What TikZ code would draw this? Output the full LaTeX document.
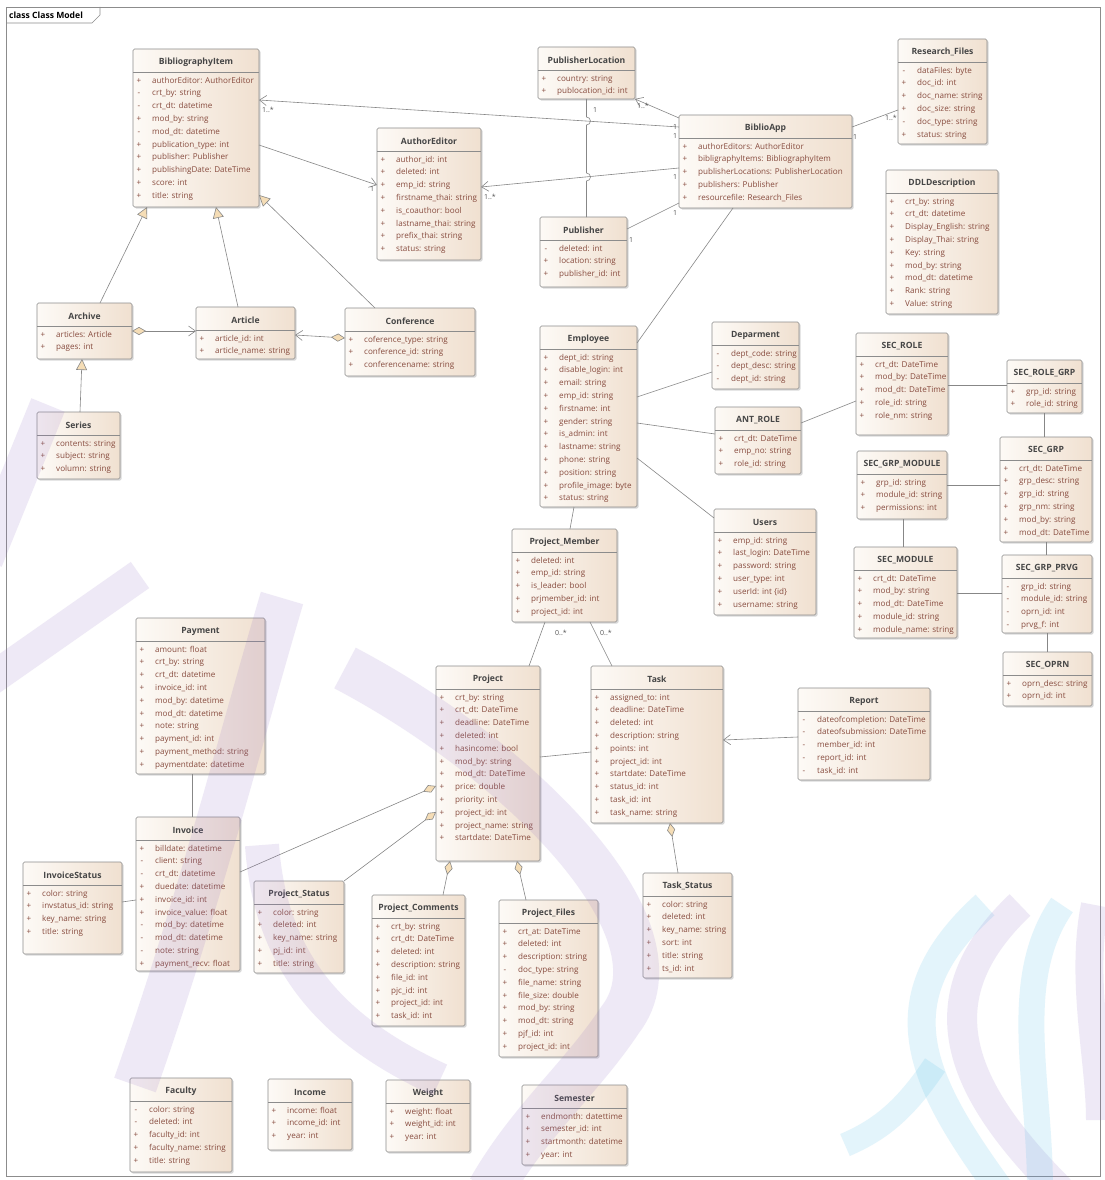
\documentclass[tikz,border=0pt]{standalone}
\usepackage{fontspec}
\setmainfont{Open Sans}
\usetikzlibrary{arrows.meta,shadows,calc}

\definecolor{boxl}{RGB}{253,250,246}
\definecolor{boxr}{RGB}{240,224,208}
\definecolor{boxline}{RGB}{140,140,140}
\definecolor{attrc}{RGB}{135,75,62}
\definecolor{titlec}{RGB}{70,70,70}
\definecolor{linec}{RGB}{135,135,135}
\definecolor{tipfill}{RGB}{245,221,182}
\definecolor{multc}{RGB}{85,85,85}
\definecolor{wmpurple}{RGB}{140,105,195}
\definecolor{wmcyan}{RGB}{70,185,230}

% one UML class: name, x1, y1, x2, y2 (pixel grid, y downwards), title, attributes
\newcommand\umlclass[7]{%
  \pgfmathsetmacro\bw{#4-#2}%
  \pgfmathsetmacro\bh{#5-#3}%
  \node[classbox, minimum width=\bw pt, minimum height=\bh pt] (#1) at (#2,-#3) {};
  \node[ctitle] at ({(#2+#4)/2},{-#3-13}) {#6};
  \draw[csep] (#2,{-#3-23}) -- (#4,{-#3-23});
  \foreach \vis/\txt [count=\k from 0] in {#7} {
    \node[cvis] at ({#2+6},{-#3-32-12.8*\k}) {\vis};
    \node[cattr] at ({#2+19},{-#3-32-12.8*\k}) {\txt};
  }%
}

\begin{document}
\begin{tikzpicture}[x=1pt,y=1pt,
  classbox/.style={anchor=north west, inner sep=0pt, outer sep=0pt,
    draw=boxline, line width=0.6pt, rounded corners=1.5pt,
    left color=boxl, right color=boxr,
    drop shadow={shadow xshift=1.6pt, shadow yshift=-1.6pt, opacity=0.3}},
  ctitle/.style={inner sep=0pt, text=titlec, font=\fontsize{8.6}{9}\selectfont\bfseries},
  cattr/.style={anchor=west, inner sep=0pt, text=attrc, text height=5.8pt, text depth=1.6pt,
    font=\fontsize{8.1}{9}\selectfont},
  cvis/.style={cattr, anchor=center},
  csep/.style={draw=boxline, line width=0.5pt},
  assoc/.style={draw=linec, line width=0.6pt},
  navig/.style={assoc, -{Straight Barb[length=7pt,width=10pt]}},
  gen/.style={assoc, -{Triangle[length=11pt,width=11pt,fill=tipfill]}},
  aggr/.style={assoc, {Diamond[length=14pt,width=8pt,fill=tipfill]}-},
  aggrnav/.style={assoc, {Diamond[length=14pt,width=8pt,fill=tipfill]}-{Straight Barb[length=7pt,width=10pt]}},
  mult/.style={inner sep=0pt, text=multc, font=\fontsize{7}{8}\selectfont},
  wmp/.style={draw=wmpurple, opacity=0.14, line cap=butt},
  wmc/.style={draw=wmcyan, opacity=0.15, line cap=butt}
]
\useasboundingbox (0,0) rectangle (1104,-1180);
\fill[white] (0,0) rectangle (1104,-1180);

% diagram frame
\draw[draw=boxline, line width=0.6pt] (6,-7) rectangle (1100,-1176);
\draw[draw=boxline, line width=0.6pt] (6,-23) -- (92,-23) -- (100,-15) -- (100,-7);
\node[anchor=west, inner sep=0pt, font=\fontsize{8.6}{9}\selectfont\bfseries] at (9,-15) {class Class Model};

% ---------------- classes ----------------
\umlclass{bibitem}{133}{49}{259}{207}{BibliographyItem}{+/authorEditor: AuthorEditor, -/crt\_by: string, -/crt\_dt: datetime, +/mod\_by: string, -/mod\_dt: datetime, +/publication\_type: int, +/publisher: Publisher, +/publishingDate: DateTime, +/score: int, +/title: string}
\umlclass{publoc}{538}{47}{635}{99}{PublisherLocation}{+/country: string, +/publocation\_id: int}
\umlclass{author}{377}{128}{481}{260}{AuthorEditor}{+/author\_id: int, +/deleted: int, +/emp\_id: string, +/firstname\_thai: string, +/is\_coauthor: bool, +/lastname\_thai: string, +/prefix\_thai: string, +/status: string}
\umlclass{publisher}{540}{217}{627}{287}{Publisher}{-/deleted: int, +/location: string, +/publisher\_id: int}
\umlclass{biblioapp}{679}{115}{852}{208}{BiblioApp}{+/authorEditors: AuthorEditor, +/bibligraphyItems: BibliographyItem, +/publisherLocations: PublisherLocation, +/publishers: Publisher, +/resourcefile: Research\_Files}
\umlclass{resfiles}{898}{39}{987}{144}{Research\_Files}{-/dataFiles: byte, +/doc\_id: int, +/doc\_name: string, +/doc\_size: string, -/doc\_type: string, +/status: string}
\umlclass{ddl}{886}{170}{998}{314}{DDLDescription}{+/crt\_by: string, +/crt\_dt: datetime, +/Display\_English: string, +/Display\_Thai: string, +/Key: string, +/mod\_by: string, +/mod\_dt: datetime, +/Rank: string, +/Value: string}
\umlclass{archive}{37}{303}{132}{359}{Archive}{+/articles: Article, +/pages: int}
\umlclass{article}{196}{307}{295}{359}{Article}{+/article\_id: int, +/article\_name: string}
\umlclass{conference}{345}{308}{475}{376}{Conference}{+/coference\_type: string, +/conference\_id: string, +/conferencename: string}
\umlclass{series}{37}{412}{120}{479}{Series}{+/contents: string, +/subject: string, +/volumn: string}
\umlclass{employee}{540}{326}{637}{507}{Employee}{+/dept\_id: string, +/disable\_login: int, +/email: string, +/emp\_id: string, +/firstname: int, +/gender: string, +/is\_admin: int, +/lastname: string, +/phone: string, +/position: string, +/profile\_image: byte, +/status: string}
\umlclass{dept}{712}{322}{799}{389}{Deparment}{-/dept\_code: string, -/dept\_desc: string, -/dept\_id: string}
\umlclass{antrole}{715}{407}{801}{474}{ANT\_ROLE}{+/crt\_dt: DateTime, +/emp\_no: string, +/role\_id: string}
\umlclass{users}{714}{509}{816}{615}{Users}{+/emp\_id: string, +/last\_login: DateTime, +/password: string, +/user\_type: int, +/userId: int \{id\}, +/username: string}
\umlclass{pmember}{512}{529}{617}{622}{Project\_Member}{+/deleted: int, +/emp\_id: string, +/is\_leader: bool, +/prjmember\_id: int, +/project\_id: int}
\umlclass{secrole}{856}{333}{948}{435}{SEC\_ROLE}{+/crt\_dt: DateTime, +/mod\_by: DateTime, +/mod\_dt: DateTime, +/role\_id: string, +/role\_nm: string}
\umlclass{secrolegrp}{1007}{360}{1082}{413}{SEC\_ROLE\_GRP}{+/grp\_id: string, +/role\_id: string}
\umlclass{secgrp}{1000}{437}{1092}{542}{SEC\_GRP}{+/crt\_dt: DateTime, +/grp\_desc: string, +/grp\_id: string, +/grp\_nm: string, +/mod\_by: string, +/mod\_dt: DateTime}
\umlclass{secgrpmod}{857}{451}{947}{519}{SEC\_GRP\_MODULE}{+/grp\_id: string, +/module\_id: string, +/permissions: int}
\umlclass{secmodule}{854}{547}{957}{638}{SEC\_MODULE}{+/crt\_dt: DateTime, +/mod\_by: string, +/mod\_dt: DateTime, +/module\_id: string, +/module\_name: string}
\umlclass{secgrpprvg}{1002}{555}{1092}{633}{SEC\_GRP\_PRVG}{-/grp\_id: string, -/module\_id: string, -/oprn\_id: int, -/prvg\_f: int}
\umlclass{secoprn}{1003}{652}{1092}{706}{SEC\_OPRN}{+/oprn\_desc: string, +/oprn\_id: int}
\umlclass{payment}{136}{618}{265}{774}{Payment}{+/amount: float, +/crt\_by: string, +/crt\_dt: datetime, +/invoice\_id: int, +/mod\_by: datetime, +/mod\_dt: datetime, +/note: string, +/payment\_id: int, +/payment\_method: string, +/paymentdate: datetime}
\umlclass{invoice}{136}{817}{240}{971}{Invoice}{+/billdate: datetime, -/client: string, -/crt\_dt: datetime, +/duedate: datetime, +/invoice\_id: int, +/invoice\_value: float, -/mod\_by: datetime, -/mod\_dt: datetime, -/note: string, +/payment\_recv: float}
\umlclass{invstatus}{23}{862}{122}{954}{InvoiceStatus}{+/color: string, +/invstatus\_id: string, +/key\_name: string, +/title: string}
\umlclass{project}{436}{666}{540}{861}{Project}{+/crt\_by: string, +/crt\_dt: DateTime, +/deadline: DateTime, +/deleted: int, +/hasincome: bool, +/mod\_by: string, +/mod\_dt: DateTime, +/price: double, +/priority: int, +/project\_id: int, +/project\_name: string, +/startdate: DateTime}
\umlclass{pstatus}{254}{881}{344}{973}{Project\_Status}{+/color: string, +/deleted: int, +/key\_name: string, +/pj\_id: int, +/title: string}
\umlclass{pcomments}{372}{895}{465}{1026}{Project\_Comments}{+/crt\_by: string, +/crt\_dt: DateTime, +/deleted: int, +/description: string, +/file\_id: int, +/pjc\_id: int, +/project\_id: int, +/task\_id: int}
\umlclass{pfiles}{499}{900}{598}{1057}{Project\_Files}{+/crt\_at: DateTime, +/deleted: int, +/description: string, -/doc\_type: string, +/file\_name: string, +/file\_size: double, +/mod\_by: string, +/mod\_dt: string, +/pjf\_id: int, +/project\_id: int}
\umlclass{task}{591}{666}{723}{823}{Task}{+/assigned\_to: int, +/deadline: DateTime, +/deleted: int, +/description: string, +/points: int, +/project\_id: int, +/startdate: DateTime, +/status\_id: int, +/task\_id: int, +/task\_name: string}
\umlclass{report}{798}{688}{930}{780}{Report}{-/dateofcompletion: DateTime, -/dateofsubmission: DateTime, -/member\_id: int, -/report\_id: int, -/task\_id: int}
\umlclass{tstatus}{643}{873}{732}{978}{Task\_Status}{+/color: string, +/deleted: int, +/key\_name: string, +/sort: int, +/title: string, +/ts\_id: int}
\umlclass{faculty}{130}{1078}{232}{1172}{Faculty}{-/color: string, -/deleted: int, +/faculty\_id: int, +/faculty\_name: string, +/title: string}
\umlclass{income}{268}{1079}{352}{1150}{Income}{+/income: float, +/income\_id: int, +/year: int}
\umlclass{weight}{386}{1080}{470}{1152}{Weight}{+/weight: float, +/weight\_id: int, +/year: int}
\umlclass{semester}{522}{1085}{627}{1165}{Semester}{+/endmonth: datettime, +/semester\_id: int, +/startmonth: datetime, +/year: int}

% ---------------- bibliography part ----------------
\draw[navig] (biblioapp.west |- 0,-127) -- (bibitem.east |- 0,-100);
\draw[navig] (biblioapp.west |- 0,-118) -- (publoc.south east);
\draw[navig] (biblioapp.west |- 0,-168) -- (author.east |- 0,-187);
\draw[assoc] (biblioapp.west |- 0,-203) -- (publisher.east |- 0,-229);
\draw[assoc] (biblioapp.east |- 0,-127) -- (resfiles.west |- 0,-110);
\draw[navig] (bibitem.east |- 0,-145) -- (author.west |- 0,-185);
% publisher to its location, hopping over two crossing lines
\draw[assoc] (publoc.south) -- ++(0,-18) arc[start angle=90,end angle=-90,radius=4]
  -- ++(0,-48) arc[start angle=90,end angle=-90,radius=4]
  -- (publoc.south |- publisher.north);

\draw[gen] (archive.north -| 100,0) -- (bibitem.south -| 147,0);
\draw[gen] (article.north -| 238,0) -- (bibitem.south -| 216,0);
\draw[gen] (conference.north -| 375,0) -- (bibitem.east |- 0,-195);
\draw[gen] (series.north -| 80,0) -- (archive.south -| 82,0);
\draw[aggrnav] (archive.east |- 0,-331) -- (article.west |- 0,-331);
\draw[aggrnav] (conference.west |- 0,-338) -- (article.east |- 0,-335);

\node[mult] at (268,-110) {1..*};
\node[mult] at (675,-127) {1};
\node[mult] at (675,-136) {1};
\node[mult] at (643,-106) {1..*};
\node[mult] at (595,-110) {1};
\node[mult] at (490,-197) {1..*};
\node[mult] at (675,-177) {1};
\node[mult] at (372,-189) {1};
\node[mult] at (631,-240) {1};
\node[mult] at (675,-213) {1};
\node[mult] at (891,-118) {1..*};
\node[mult] at (855,-137) {1};

% ---------------- staff and security ----------------
\draw[assoc] (biblioapp.south -| 733,0) -- (employee.east |- 0,-343);
\draw[assoc] (employee.east |- 0,-397) -- (dept.west |- 0,-372);
\draw[assoc] (employee.east |- 0,-423) -- (antrole.west |- 0,-434);
\draw[assoc] (employee.east |- 0,-458) -- (users.west |- 0,-518);
\draw[assoc] (antrole.east |- 0,-423) -- (secrole.west |- 0,-401);
\draw[assoc] (secrole.east |- 0,-385) -- (secrolegrp.west |- 0,-385);
\draw[assoc] (secrolegrp.south -| 1044,0) -- (secgrp.north -| 1044,0);
\draw[assoc] (secgrpmod.east |- 0,-485) -- (secgrp.west |- 0,-485);
\draw[assoc] (secgrpmod.south -| 903,0) -- (secmodule.north -| 903,0);
\draw[assoc] (secmodule.east |- 0,-593) -- (secgrpprvg.west |- 0,-593);
\draw[assoc] (secgrp.south -| 1046,0) -- (secgrpprvg.north -| 1046,0);
\draw[assoc] (secgrpprvg.south -| 1047,0) -- (secoprn.north -| 1047,0);

% ---------------- projects ----------------
\draw[assoc] (employee.south -| 574,0) -- (pmember.north -| 570,0);
\draw[assoc] (pmember.south -| 545,0) -- (project.north -| 529,0);
\draw[assoc] (pmember.south -| 590,0) -- (task.north -| 612,0);
\node[mult] at (561,-633) {0..*};
\node[mult] at (606,-633) {0..*};
\draw[assoc] (project.east |- 0,-757) -- (task.west |- 0,-752);
\draw[navig] (report.west |- 0,-737) -- (task.east |- 0,-740);
\draw[aggr] (task.south -| 670,0) -- (tstatus.north -| 678,0);
\draw[aggr] (project.south -| 450,0) -- (pcomments.north -| 443,0);
\draw[aggr] (project.south -| 517,0) -- (pfiles.north -| 526,0);
\draw[aggr] (project.west |- 0,-786) -- (invoice.east |- 0,-872);
\draw[aggr] (project.west |- 0,-812) -- (pstatus.north east);
\draw[assoc] (payment.south -| 192,0) -- (invoice.north -| 192,0);
\draw[assoc] (invstatus.east |- 0,-902) -- (invoice.west |- 0,-900);

% ---------------- background logo strokes ----------------
\draw[wmp, line width=36pt] (48,-405) -- (-15,-560);
\draw[wmp, line width=32pt] (140,-575) -- (-10,-680);
\draw[wmp, line width=44pt] (282,-598) .. controls (240,-740) and (200,-900) .. (135,-1085);
\draw[wmp, line width=46pt] (345,-668) .. controls (520,-760) and (690,-930) .. (620,-1020)
  .. controls (580,-1080) and (530,-1120) .. (490,-1190);
\draw[wmp, line width=34pt] (262,-845) .. controls (270,-960) and (330,-1030) .. (440,-1080);
\draw[wmc, line width=28pt] (985,-905) .. controls (880,-1000) and (920,-1080) .. (1000,-1190);
\draw[wmp, line width=30pt] (1020,-905) .. controls (920,-1000) and (960,-1090) .. (1060,-1190);
\draw[wmc, line width=26pt] (1062,-905) .. controls (1010,-980) and (1040,-1080) .. (1040,-1190);
\draw[wmp, line width=28pt] (1095,-905) .. controls (1080,-980) and (1100,-1060) .. (1100,-1120);
\draw[wmc, line width=24pt] (935,-1065) .. controls (905,-1110) and (880,-1130) .. (845,-1145);
\end{tikzpicture}
\end{document}
